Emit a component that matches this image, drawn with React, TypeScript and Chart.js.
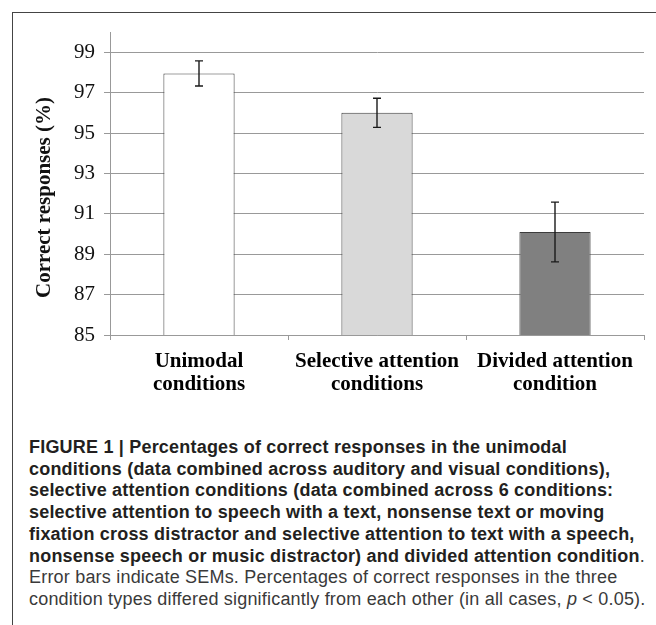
import React, { useEffect, useRef } from "react";
import { Chart, registerables } from "chart.js";

Chart.register(...registerables);

const categories: string[][] = [
  ["Unimodal", "conditions"],
  ["Selective attention", "conditions"],
  ["Divided attention", "condition"],
];
const meanValues: number[] = [97.95, 96.0, 90.1];
const semValues: number[] = [0.62, 0.72, 1.48];
const barColors: string[] = ["#ffffff", "#d9d9d9", "#808080"];
const yTickValues: number[] = [85, 87, 89, 91, 93, 95, 97, 99];
const yMin = 85;
const yMax = 100;
const yTitle = "Correct responses (%)";

const SERIF = "'Liberation Serif', 'Times New Roman', serif";
const SANS = "'Liberation Sans', Arial, Helvetica, sans-serif";

const errorBarPlugin = {
  id: "errorBars",
  afterDatasetsDraw(chart: any) {
    const { ctx } = chart;
    const meta = chart.getDatasetMeta(0);
    const yScale = chart.scales.y;
    ctx.save();
    ctx.strokeStyle = "#1a1a1a";
    ctx.lineWidth = 1.4;
    meta.data.forEach((bar: any, i: number) => {
      const x = bar.x;
      const top = yScale.getPixelForValue(meanValues[i] + semValues[i]);
      const bot = yScale.getPixelForValue(meanValues[i] - semValues[i]);
      ctx.beginPath();
      ctx.moveTo(x, top);
      ctx.lineTo(x, bot);
      ctx.moveTo(x - 4, top);
      ctx.lineTo(x + 4, top);
      ctx.moveTo(x - 4, bot);
      ctx.lineTo(x + 4, bot);
      ctx.stroke();
    });
    ctx.restore();
  },
};

const yTitlePlugin = {
  id: "yTitle",
  afterDraw(chart: any) {
    const { ctx, chartArea } = chart;
    ctx.save();
    ctx.translate(45, (chartArea.top + chartArea.bottom) / 2 + 14);
    ctx.rotate(-Math.PI / 2);
    ctx.font = `bold 21px ${SERIF}`;
    ctx.fillStyle = "#111";
    ctx.textAlign = "center";
    ctx.textBaseline = "middle";
    ctx.fillText(yTitle, 0, 0);
    ctx.restore();
  },
};

function BarChart() {
  const ref = useRef<HTMLCanvasElement | null>(null);
  useEffect(() => {
    if (!ref.current) return;
    const chart = new Chart(ref.current, {
      type: "bar",
      data: {
        labels: categories,
        datasets: [
          {
            data: meanValues,
            backgroundColor: barColors,
            borderColor: "#3c3c3c",
            borderWidth: 1,
            barPercentage: 0.4,
            categoryPercentage: 1.0,
          },
        ],
      },
      options: {
        animation: false,
        responsive: true,
        maintainAspectRatio: false,
        layout: { padding: { top: 32, right: 12, left: 0, bottom: 0 } },
        plugins: {
          legend: { display: false },
          tooltip: { enabled: false },
        },
        scales: {
          x: {
            grid: {
              display: true,
              drawOnChartArea: false,
              drawTicks: true,
              tickLength: 5,
              offset: true,
              color: "#999",
            },
            border: { display: true, color: "#999" },
            ticks: {
              color: "#000",
              padding: 10,
              maxRotation: 0,
              autoSkip: false,
              font: { family: SERIF, size: 21, weight: "bold", lineHeight: 1.1 },
            },
            afterFit(scale: any) {
              scale.height = 85;
            },
          },
          y: {
            min: yMin,
            max: yMax,
            afterBuildTicks(scale: any) {
              scale.ticks = yTickValues.map((v) => ({ value: v }));
            },
            ticks: {
              color: "#111",
              padding: 9,
              font: { family: SERIF, size: 21 },
              callback: (v: any) => String(v),
            },
            grid: {
              color: "#999",
              tickLength: 6,
              drawTicks: true,
            },
            border: { display: true, color: "#999" },
            afterFit(scale: any) {
              scale.width = 110;
            },
          },
        },
      },
      plugins: [errorBarPlugin, yTitlePlugin],
    } as any);
    return () => chart.destroy();
  }, []);
  return <canvas ref={ref} />;
}

const boldStyle: React.CSSProperties = { fontWeight: "bold", color: "#231f20" };
const regStyle: React.CSSProperties = { color: "#3a3a3a" };

export default function App() {
  return (
    <div
      style={{
        position: "absolute",
        left: 0,
        top: 0,
        width: 656,
        height: 625,
        overflow: "hidden",
        background: "#fff",
      }}
    >
      <div
        style={{
          position: "absolute",
          left: 12,
          top: 12,
          width: 700,
          height: 700,
          borderTop: "1.5px solid #444",
          borderLeft: "1.5px solid #444",
        }}
      />
      <div style={{ position: "absolute", left: 0, top: 0, width: 656, height: 420 }}>
        <BarChart />
      </div>
      <div
        style={{
          position: "absolute",
          left: 29,
          top: 437,
          fontFamily: SANS,
          fontSize: 18,
          letterSpacing: "0.2px",
          lineHeight: "21.7px",
          whiteSpace: "nowrap",
        }}
      >
        <div style={boldStyle}>FIGURE 1 | Percentages of correct responses in the unimodal</div>
        <div style={boldStyle}>conditions (data combined across auditory and visual conditions),</div>
        <div style={boldStyle}>selective attention conditions (data combined across 6 conditions:</div>
        <div style={boldStyle}>selective attention to speech with a text, nonsense text or moving</div>
        <div style={boldStyle}>fixation cross distractor and selective attention to text with a speech,</div>
        <div>
          <span style={boldStyle}>nonsense speech or music distractor) and divided attention condition</span>
          <span style={regStyle}>.</span>
        </div>
        <div style={regStyle}>Error bars indicate SEMs. Percentages of correct responses in the three</div>
        <div style={regStyle}>
          condition types differed significantly from each other (in all cases, <i>p</i> &lt; 0.05).
        </div>
      </div>
    </div>
  );
}
